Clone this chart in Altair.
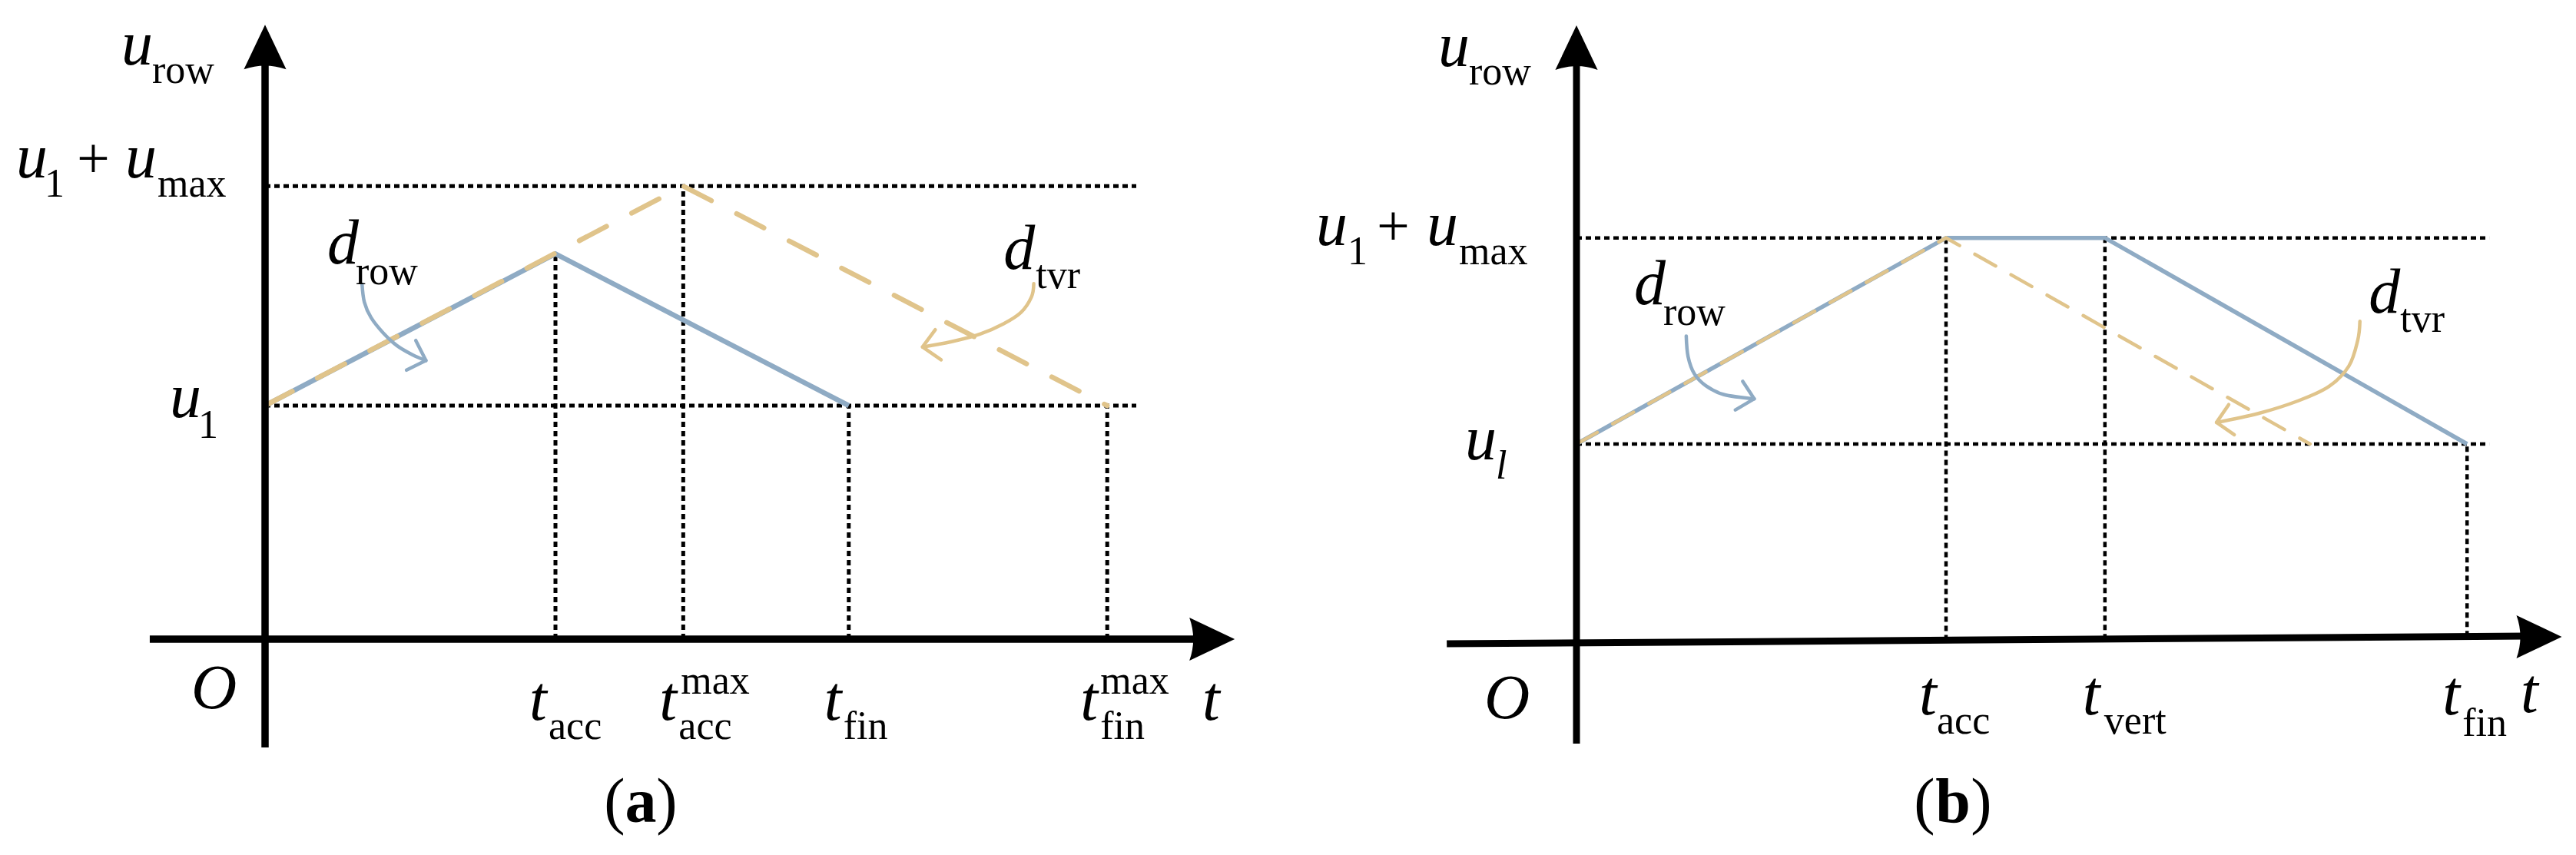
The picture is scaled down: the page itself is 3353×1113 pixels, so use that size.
import altair as alt
import pandas as pd

BLUE = "#8FABC4"
TAN = "#E0C48B"
INK = "#000000"
FONT = "Liberation Serif"

# ---------------- values ----------------
# axis units: t in multiples of t_acc, u in multiples of u_1 (origin = O)
# panel (a)
A_T = {"acc": 1.00, "acc_max": 1.44, "fin": 2.01, "fin_max": 2.90}
A_U = {"l": 1.00, "peak": 1.65, "top": 1.94}
A_GUIDE_END = 3.00
a_row_t = [0.0, 1.00, 2.01]
a_row_u = [1.00, 1.65, 1.00]
a_tvr_t = [0.0, 1.44, 2.90]
a_tvr_u = [1.00, 1.94, 1.00]

# panel (b)
B_T = {"acc": 1.00, "vert": 1.43, "fin": 2.41}
B_U = {"l": 1.00, "top": 2.04}
B_GUIDE_END = 2.47
b_row_t = [0.0, 1.00, 1.43, 2.41]
b_row_u = [1.00, 2.04, 2.04, 1.00]
b_tvr_t = [0.0, 1.00, 1.985]
b_tvr_u = [1.00, 2.04, 1.00]

# curved annotation arrows: shaft points, and head (leg, tip, leg)
a_drow_t = [0.334, 0.342, 0.365, 0.407, 0.454, 0.507, 0.554]
a_drow_u = [1.520, 1.443, 1.377, 1.311, 1.257, 1.218, 1.193]
a_drow_head_t = [0.519, 0.554, 0.487]
a_drow_head_u = [1.279, 1.193, 1.152]
a_dtvr_t = [2.647, 2.639, 2.603, 2.543, 2.462, 2.361, 2.264]
a_dtvr_u = [1.522, 1.465, 1.399, 1.350, 1.306, 1.273, 1.251]
a_dtvr_head_t = [2.308, 2.264, 2.328]
a_dtvr_head_u = [1.325, 1.251, 1.196]

b_drow_t = [0.297, 0.302, 0.319, 0.350, 0.398, 0.481]
b_drow_u = [1.545, 1.441, 1.354, 1.294, 1.250, 1.228]
b_drow_head_t = [0.450, 0.481, 0.430]
b_drow_head_u = [1.316, 1.228, 1.172]
b_dtvr_t = [2.120, 2.114, 2.090, 2.036, 1.953, 1.845, 1.732]
b_dtvr_u = [1.619, 1.522, 1.393, 1.290, 1.218, 1.154, 1.109]
b_dtvr_head_t = [1.765, 1.732, 1.780]
b_dtvr_head_u = [1.199, 1.109, 1.047]

# ---------------- layout ----------------
H = 1097
TOP = 8
LAYOUT = {
    "a": dict(left=8, width=1650, ox=345, oy=832, ux=378, uy=304,
              xaxis=(-0.397, 0.0, 3.22, 0.0), xarrow=(3.261, 0.0),
              yaxis=(0.0, -0.464, 0.0, 2.46), yarrow=(0.0, 2.535),
              axis_w=9.5, guide_w=5, row_w=6.5, tvr_w=6.5, tvr_dash=[40, 37], ann_w=4.5),
    "b": dict(left=1673, width=1672, ox=2052, oy=836, ux=481, uy=258,
              xaxis=(-0.351, -0.008, 2.574, 0.031), xarrow=(2.605, 0.027),
              yaxis=(0.0, -0.512, 0.0, 2.91), yarrow=(0.0, 3.0),
              axis_w=9, guide_w=4.5, row_w=5.5, tvr_w=4.5, tvr_dash=[31, 23], ann_w=4.5),
}

UP_ARROW = "M0,-1L0.95,1Q0,0.66,-0.95,1Z"
RIGHT_ARROW = "M1,0L-1,-0.95Q-0.66,0,-1,0.95Z"

# label pieces: (text, kind, anchor_t, anchor_u, dx_px, dy_px)
A_LABELS = [
    ("u", "it", 0, A_U["top"], -187, -158), ("row", "sub", 0, A_U["top"], -147, -134),
    ("u", "it", 0, A_U["top"], -324, -11), ("1", "sub", 0, A_U["top"], -287, 14),
    ("+", "plus", 0, A_U["top"], -245, -11), ("u", "it", 0, A_U["top"], -182, -11),
    ("max", "sub", 0, A_U["top"], -140, 14),
    ("u", "it", 0, A_U["l"], -124, 15), ("1", "sub", 0, A_U["l"], -87, 42),
    ("d", "it", A_T["acc"], A_U["peak"], -297, 13), ("row", "sub", A_T["acc"], A_U["peak"], -260, 40),
    ("d", "it", A_T["fin_max"], A_U["l"], -135, -178), ("tvr", "sub", A_T["fin_max"], A_U["l"], -93, -153),
    ("O", "it", 0, 0, -96, 90),
    ("t", "it", A_T["acc"], 0, -34, 105), ("acc", "sub", A_T["acc"], 0, -9, 130),
    ("t", "it", A_T["acc_max"], 0, -31, 105), ("max", "sub", A_T["acc_max"], 0, -3, 71),
    ("acc", "sub", A_T["acc_max"], 0, -6, 130),
    ("t", "it", A_T["fin"], 0, -32, 105), ("fin", "sub", A_T["fin"], 0, -7, 130),
    ("t", "it", A_T["fin_max"], 0, -35, 105), ("max", "sub", A_T["fin_max"], 0, -9, 71),
    ("fin", "sub", A_T["fin_max"], 0, -9, 130),
    ("t", "it", 0, 0, 1220, 105),
    ("(", "paren", 0, 0, 455, 238), ("a", "bold", 0, 0, 489, 238), (")", "paren", 0, 0, 523, 238),
]
B_LABELS = [
    ("u", "it", 0, B_U["top"], -180, -224), ("row", "sub", 0, B_U["top"], -140, -200),
    ("u", "it", 0, B_U["top"], -339, 9), ("1", "sub", 0, B_U["top"], -298, 34),
    ("+", "plus", 0, B_U["top"], -260, 9), ("u", "it", 0, B_U["top"], -195, 9),
    ("max", "sub", 0, B_U["top"], -153, 34),
    ("u", "it", 0, B_U["l"], -145, 20), ("l", "isub", 0, B_U["l"], -105, 45),
    ("d", "it", B_T["acc"], B_U["top"], -406, 86), ("row", "sub", B_T["acc"], B_U["top"], -368, 113),
    ("d", "it", B_T["fin"], B_U["l"], -128, -171), ("tvr", "sub", B_T["fin"], B_U["l"], -87, -146),
    ("O", "it", 0, 0, -120, 99),
    ("t", "it", B_T["acc"], 0, -35, 94), ("acc", "sub", B_T["acc"], 0, -12, 119),
    ("t", "it", B_T["vert"], 0, -29, 94), ("vert", "sub", B_T["vert"], 0, -1, 119),
    ("t", "it", B_T["fin"], 0, -32, 94), ("fin", "sub", B_T["fin"], 0, -6, 122),
    ("t", "it", 0, 0, 1229, 91),
    ("(", "paren", 0, 0, 453, 234), ("b", "bold", 0, 0, 490, 234), (")", "paren", 0, 0, 527, 234),
]

TEXT_STYLE = {
    "it": dict(fontSize=82, fontStyle="italic", align="left"),
    "sub": dict(fontSize=52, fontStyle="normal", align="left"),
    "isub": dict(fontSize=52, fontStyle="italic", align="left"),
    "plus": dict(fontSize=76, fontStyle="normal", align="left"),
    "paren": dict(fontSize=82, fontStyle="normal", align="center"),
    "bold": dict(fontSize=82, fontStyle="normal", fontWeight="bold", align="center"),
}


def build_panel(key, guides_h, guides_v, row_t, row_u, tvr_t, tvr_u, arrows, labels):
    L = LAYOUT[key]
    x0 = (L["left"] - L["ox"]) / L["ux"]
    x1 = (L["left"] + L["width"] - L["ox"]) / L["ux"]
    y1 = (L["oy"] - TOP) / L["uy"]
    y0 = (L["oy"] - TOP - H) / L["uy"]
    xs = alt.Scale(domain=[x0, x1], nice=False, zero=False)
    ys = alt.Scale(domain=[y0, y1], nice=False, zero=False)
    X = alt.X("x:Q", scale=xs, axis=None)
    Y = alt.Y("y:Q", scale=ys, axis=None)

    layers = []
    # dotted guides
    g = pd.DataFrame(
        [dict(x=0.0, y=u, x2=end, y2=u) for u, end in guides_h]
        + [dict(x=t, y=lo, x2=t, y2=hi) for t, lo, hi in guides_v]
    )
    layers.append(alt.Chart(g).mark_rule(color=INK, strokeWidth=L["guide_w"], strokeDash=[7, 5],
                                          strokeCap="butt").encode(x=X, y=Y, x2="x2:Q", y2="y2:Q"))
    # profiles
    layers.append(alt.Chart(pd.DataFrame({"x": row_t, "y": row_u, "i": range(len(row_t))}))
                  .mark_line(color=BLUE, strokeWidth=L["row_w"], strokeJoin="miter")
                  .encode(x=X, y=Y, order="i:Q"))
    layers.append(alt.Chart(pd.DataFrame({"x": tvr_t, "y": tvr_u, "i": range(len(tvr_t))}))
                  .mark_line(color=TAN, strokeWidth=L["tvr_w"], strokeDash=L["tvr_dash"], strokeCap="round")
                  .encode(x=X, y=Y, order="i:Q"))
    # coordinate axes
    ax = pd.DataFrame([dict(x=L["xaxis"][0], y=L["xaxis"][1], x2=L["xaxis"][2], y2=L["xaxis"][3]),
                       dict(x=L["yaxis"][0], y=L["yaxis"][1], x2=L["yaxis"][2], y2=L["yaxis"][3])])
    layers.append(alt.Chart(ax).mark_rule(color=INK, strokeWidth=L["axis_w"], strokeCap="butt")
                  .encode(x=X, y=Y, x2="x2:Q", y2="y2:Q"))
    layers.append(alt.Chart(pd.DataFrame([{"x": L["yarrow"][0], "y": L["yarrow"][1]}]))
                  .mark_point(shape=UP_ARROW, filled=True, color=INK, opacity=1, size=3364, strokeWidth=0)
                  .encode(x=X, y=Y))
    layers.append(alt.Chart(pd.DataFrame([{"x": L["xarrow"][0], "y": L["xarrow"][1]}]))
                  .mark_point(shape=RIGHT_ARROW, filled=True, color=INK, opacity=1, size=3481, strokeWidth=0)
                  .encode(x=X, y=Y))
    # curved pointer arrows
    for st, su, ht, hu, col in arrows:
        layers.append(alt.Chart(pd.DataFrame({"x": st, "y": su, "i": range(len(st))}))
                      .mark_line(color=col, strokeWidth=L["ann_w"], interpolate="cardinal", strokeCap="round")
                      .encode(x=X, y=Y, order="i:Q"))
        layers.append(alt.Chart(pd.DataFrame({"x": ht, "y": hu, "i": range(len(ht))}))
                      .mark_line(color=col, strokeWidth=L["ann_w"], strokeCap="round", strokeJoin="round")
                      .encode(x=X, y=Y, order="i:Q"))
    # text
    rows = []
    for text, kind, at, au, dx, dy in labels:
        rows.append(dict(text=text, kind=kind, x=at + dx / L["ux"], y=au - dy / L["uy"]))
    lab = pd.DataFrame(rows)
    for kind, style in TEXT_STYLE.items():
        sub = lab[lab["kind"] == kind]
        if len(sub) == 0:
            continue
        layers.append(alt.Chart(sub).mark_text(font=FONT, color=INK, baseline="alphabetic", **style)
                      .encode(x=X, y=Y, text="text:N"))
    return alt.layer(*layers).properties(width=L["width"], height=H)


panel_a = build_panel(
    "a",
    guides_h=[(A_U["l"], A_GUIDE_END), (A_U["top"], A_GUIDE_END)],
    guides_v=[(A_T["acc"], 0, A_U["peak"]), (A_T["acc_max"], 0, A_U["top"]),
              (A_T["fin"], 0, A_U["l"]), (A_T["fin_max"], 0, A_U["l"])],
    row_t=a_row_t, row_u=a_row_u, tvr_t=a_tvr_t, tvr_u=a_tvr_u,
    arrows=[(a_drow_t, a_drow_u, a_drow_head_t, a_drow_head_u, BLUE),
            (a_dtvr_t, a_dtvr_u, a_dtvr_head_t, a_dtvr_head_u, TAN)],
    labels=A_LABELS,
)
panel_b = build_panel(
    "b",
    guides_h=[(B_U["l"], B_GUIDE_END), (B_U["top"], B_GUIDE_END)],
    guides_v=[(B_T["acc"], 0.01, B_U["top"]), (B_T["vert"], 0.015, B_U["top"]),
              (B_T["fin"], 0.03, B_U["l"])],
    row_t=b_row_t, row_u=b_row_u, tvr_t=b_tvr_t, tvr_u=b_tvr_u,
    arrows=[(b_drow_t, b_drow_u, b_drow_head_t, b_drow_head_u, BLUE),
            (b_dtvr_t, b_dtvr_u, b_dtvr_head_t, b_dtvr_head_u, TAN)],
    labels=B_LABELS,
)

chart = alt.hconcat(panel_a, panel_b, spacing=15).configure_view(stroke=None).properties(
    padding=0, background="white")

chart.save("out.html", embed_options={"renderer": "svg", "actions": False})
